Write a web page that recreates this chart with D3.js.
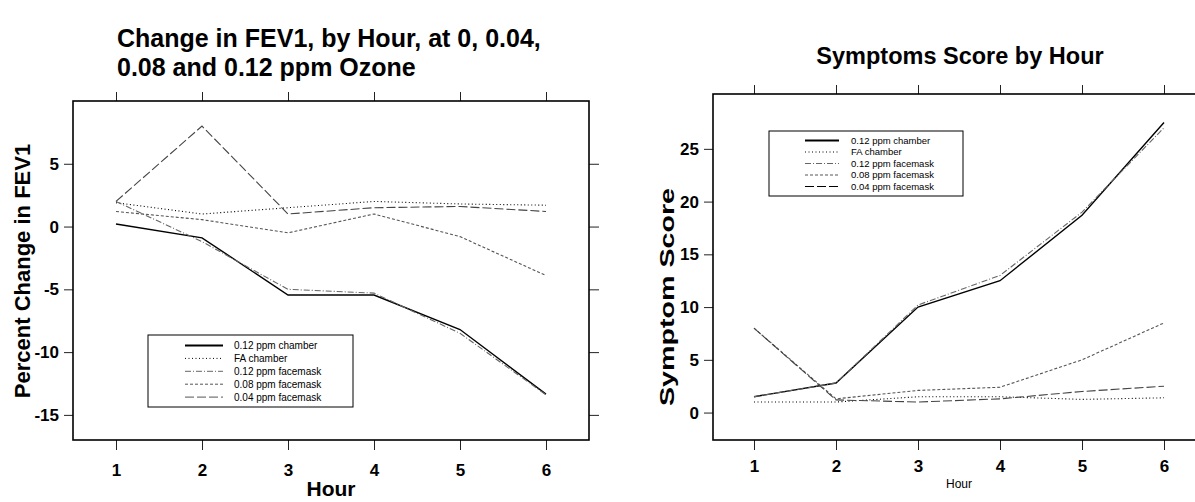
<!DOCTYPE html>
<html>
<head>
<meta charset="utf-8">
<script src="https://cdn.jsdelivr.net/npm/d3@7"></script>
<style>
  body { margin: 0; background: #fff; }
  text { font-family: "Liberation Sans", Arial, sans-serif; }
</style>
</head>
<body>
<div id="chart"></div>
<script>
const hours = [1, 2, 3, 4, 5, 6];
const seriesNames = ["0.12 ppm chamber", "FA chamber", "0.12 ppm facemask", "0.08 ppm facemask", "0.04 ppm facemask"];

// Percent change in FEV1
const fevChamber012 = [0.2, -0.9, -5.45, -5.45, -8.2, -13.35];
const fevChamberFA = [1.9, 1.0, 1.5, 2.0, 1.8, 1.7];
const fevMask012 = [2.0, -1.2, -5.0, -5.3, -8.5, -13.4];
const fevMask008 = [1.2, 0.55, -0.5, 1.0, -0.8, -3.9];
const fevMask004 = [2.0, 8.0, 1.0, 1.5, 1.6, 1.2];
const fevTicks = [5, 0, -5, -10, -15];

// Symptom score
const symChamber012 = [1.5, 2.8, 10.0, 12.5, 18.7, 27.5];
const symChamberFA = [1.0, 1.0, 1.5, 1.5, 1.25, 1.4];
const symMask012 = [1.5, 2.8, 10.2, 13.0, 19.0, 27.0];
const symMask008 = [8.0, 1.3, 2.1, 2.4, 5.0, 8.5];
const symMask004 = [8.0, 1.2, 1.0, 1.3, 2.0, 2.5];
const symTicks = [0, 5, 10, 15, 20, 25];

// line look per series (same order as seriesNames)
const dash = [null, "1,2.5", "6,2,1,2", "3,2", "9,3"];
const stroke = ["#000", "#000", "#666", "#555", "#444"];

const svg = d3.select("#chart").append("svg")
  .attr("width", 1195)
  .attr("height", 502)
  .style("display", "block");

const plain = d => String(d); // keeps "-5" with a normal hyphen

function drawPanel(p) {
  const x = d3.scaleLinear().domain([0.5, 6.5]).range([p.left, p.right]);
  const y = d3.scaleLinear().domain(p.yDomain).range([p.bottom, p.top]);
  const g = svg.append("g");

  // outward ticks on all four sides
  g.append("g").attr("transform", `translate(0,${p.bottom})`)
    .call(d3.axisBottom(x).tickValues(hours).tickSize(10).tickPadding(p.xPad).tickFormat(plain))
    .call(a => a.select(".domain").remove())
    .call(a => a.selectAll("text").attr("font-size", 17).attr("font-weight", "bold")
      .attr("font-family", "Liberation Sans, Arial, sans-serif").attr("fill", "#000"));
  g.append("g").attr("transform", `translate(0,${p.top})`)
    .call(d3.axisTop(x).tickValues(hours).tickSize(9).tickFormat(""))
    .call(a => a.select(".domain").remove());
  g.append("g").attr("transform", `translate(${p.left},0)`)
    .call(d3.axisLeft(y).tickValues(p.ticks).tickSize(9).tickPadding(5).tickFormat(plain))
    .call(a => a.select(".domain").remove())
    .call(a => a.selectAll("text").attr("font-size", 17).attr("font-weight", "bold")
      .attr("font-family", "Liberation Sans, Arial, sans-serif").attr("fill", "#000"));
  if (p.rightTicks) {
    g.append("g").attr("transform", `translate(${p.right},0)`)
      .call(d3.axisRight(y).tickValues(p.ticks).tickSize(10).tickFormat(""))
      .call(a => a.select(".domain").remove());
  }
  g.selectAll(".tick line").attr("stroke", "#222").attr("stroke-width", 1);

  g.append("rect")
    .attr("x", p.left).attr("y", p.top)
    .attr("width", p.right - p.left).attr("height", p.bottom - p.top)
    .attr("fill", "none").attr("stroke", "#000").attr("stroke-width", 1.6);

  const line = d3.line().x((d, i) => x(hours[i])).y(d => y(d));
  g.selectAll(".series").data(p.series).enter().append("path")
    .attr("d", d => line(d))
    .attr("fill", "none")
    .attr("stroke", (d, i) => stroke[i])
    .attr("stroke-width", (d, i) => i === 0 ? 1.4 : 1.1)
    .attr("stroke-dasharray", (d, i) => dash[i]);

  // legend
  const L = p.legend;
  g.append("rect").attr("x", L.x).attr("y", L.y).attr("width", L.w).attr("height", L.h)
    .attr("fill", "#fff").attr("stroke", "#000").attr("stroke-width", 1);
  const rows = g.selectAll(".leg").data(seriesNames).enter().append("g")
    .attr("transform", (d, i) => `translate(0,${L.y0 + i * L.step})`);
  rows.append("line")
    .attr("x1", L.lx1).attr("x2", L.lx2)
    .attr("stroke", (d, i) => i === 4 ? L.longDashColor : stroke[i])
    .attr("stroke-width", (d, i) => i === 0 ? 2 : 1)
    .attr("stroke-dasharray", (d, i) => dash[i]);
  rows.append("text")
    .attr("x", L.tx).attr("dy", "0.35em")
    .attr("font-size", L.fs)
    .text(d => d);

  // titles
  p.title.forEach((t, i) => {
    svg.append("text").attr("x", p.titleX).attr("y", p.titleY + i * p.titleStep)
      .attr("text-anchor", p.titleAnchor).attr("font-size", p.titleSize).attr("font-weight", "bold")
      .text(t);
  });
  svg.append("text").attr("x", (p.left + p.right) / 2).attr("y", p.xLabelY)
    .attr("text-anchor", "middle").attr("font-size", p.xLabelSize).attr("font-weight", p.xLabelWeight)
    .text("Hour");
  const yl = svg.append("text")
    .attr("transform", `translate(${p.yLabelX},${p.yLabelY}) rotate(-90)`)
    .attr("text-anchor", "middle").attr("font-size", p.yLabelSize).attr("font-weight", "bold")
    .text(p.yLabel);
  if (p.yLabelLength) yl.attr("textLength", p.yLabelLength).attr("lengthAdjust", "spacingAndGlyphs");
}

drawPanel({
  left: 73, right: 589, top: 101, bottom: 440,
  yDomain: [-17, 10], ticks: fevTicks, rightTicks: true, xPad: 14,
  series: [fevChamber012, fevChamberFA, fevMask012, fevMask008, fevMask004],
  legend: { x: 148, y: 335, w: 205, h: 72, y0: 345.5, step: 12.9, lx1: 185, lx2: 223, tx: 234, fs: 10, longDashColor: "#555" },
  title: ["Change in FEV1, by Hour, at 0, 0.04,", "0.08 and 0.12 ppm Ozone"],
  titleX: 117, titleY: 47, titleStep: 29, titleAnchor: "start", titleSize: 25,
  xLabelY: 496, xLabelSize: 21, xLabelWeight: "bold",
  yLabel: "Percent Change in FEV1", yLabelX: 30, yLabelY: 271, yLabelSize: 22
});

drawPanel({
  left: 713, right: 1205, top: 94, bottom: 440,
  yDomain: [-2.6, 30.2], ticks: symTicks, rightTicks: false, xPad: 10,
  series: [symChamber012, symChamberFA, symMask012, symMask008, symMask004],
  legend: { x: 769, y: 131, w: 194, h: 65, y0: 140.5, step: 11.5, lx1: 805, lx2: 839, tx: 851, fs: 9.5, longDashColor: "#000" },
  title: ["Symptoms Score by Hour"],
  titleX: 960, titleY: 64, titleStep: 0, titleAnchor: "middle", titleSize: 23.5,
  xLabelY: 488, xLabelSize: 12, xLabelWeight: "normal",
  yLabel: "Symptom Score", yLabelX: 674, yLabelY: 297, yLabelSize: 20, yLabelLength: 218
});
</script>
</body>
</html>
